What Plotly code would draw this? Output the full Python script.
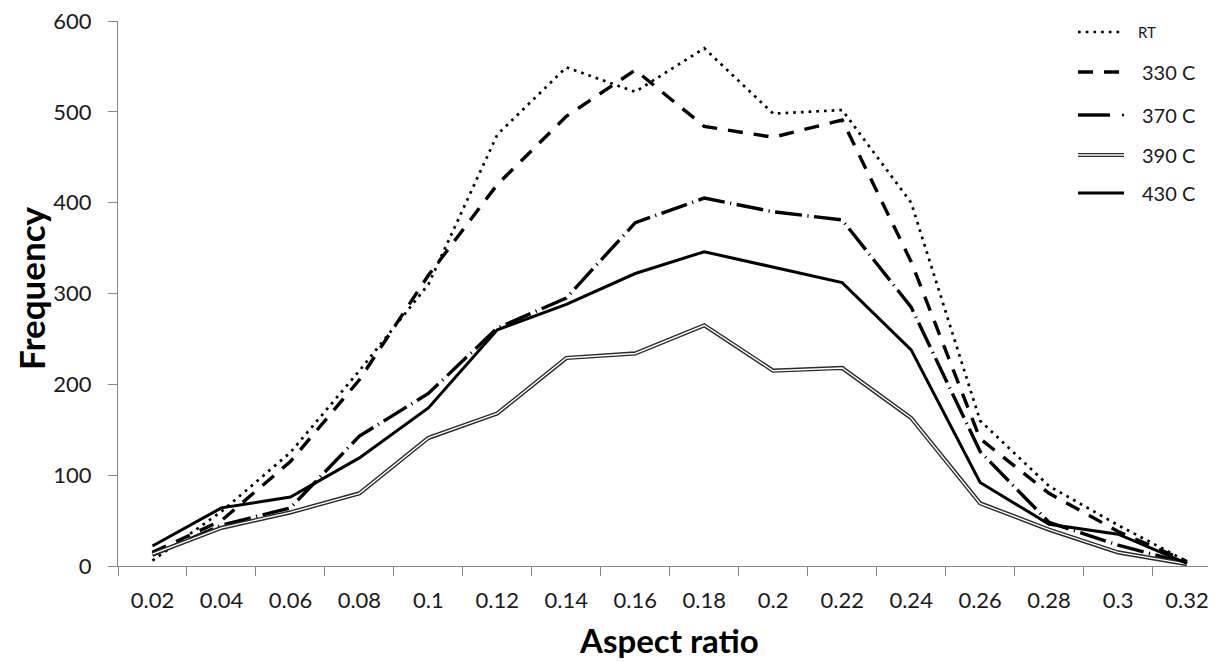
import plotly.graph_objects as go

# ---- data ----
aspect_ratio = ["0.02", "0.04", "0.06", "0.08", "0.1", "0.12", "0.14", "0.16",
                "0.18", "0.2", "0.22", "0.24", "0.26", "0.28", "0.3", "0.32"]
rt    = [6, 60, 125, 215, 310, 475, 549, 522, 570, 498, 502, 400, 160, 88, 45, 5]
c330  = [15, 50, 115, 205, 320, 420, 495, 546, 484, 472, 491, 335, 140, 80, 38, 5]
c370  = [12, 45, 64, 143, 190, 262, 295, 378, 405, 390, 381, 285, 126, 48, 23, 3]
c390  = [13, 42, 59, 80, 141, 168, 229, 234, 265, 215, 218, 163, 69, 40, 15, 2]
c430  = [22, 64, 76, 119, 174, 260, 288, 322, 346, 329, 312, 238, 92, 46, 35, 3]
series_names = ["RT", "330 C", "370 C", "390 C", "430 C"]

# page has an 8px body margin: figure sits at (8, 8) in the window
OFF = 8
W, H = 1216 - OFF, 663 - OFF
# plot area in window pixels: x 118..1216, y 21..566
ML, MT = 118 - OFF, 21 - OFF
PW, PH = 1216 - 118, 566 - 21
MR = W - ML - PW
MB = H - MT - PH

def px2x(px):  # window pixel -> paper x
    return (px - 118) / PW

def py2y(py):  # window pixel -> paper y
    return (566 - py) / PH

FONT = "Lato"
BLACK = "#000000"

styles = {
    "RT":    dict(color=BLACK, width=2.7, dash="2.7px,5px"),
    "330 C": dict(color=BLACK, width=3.4, dash="15px,11px"),
    "370 C": dict(color=BLACK, width=3.4, dash="27px,5.5px,1.2px,5.5px"),
    "430 C": dict(color=BLACK, width=3.0),
}

fig = go.Figure()
fig.add_trace(go.Scatter(x=aspect_ratio, y=rt, mode="lines", name="RT",
                         line=styles["RT"], showlegend=False))
fig.add_trace(go.Scatter(x=aspect_ratio, y=c330, mode="lines", name="330 C",
                         line=styles["330 C"], showlegend=False))
fig.add_trace(go.Scatter(x=aspect_ratio, y=c370, mode="lines", name="370 C",
                         line=styles["370 C"], showlegend=False))
fig.add_trace(go.Scatter(x=aspect_ratio, y=c390, mode="lines", name="390 C",
                         line=dict(color="#2a2a2a", width=4.2), showlegend=False))
fig.add_trace(go.Scatter(x=aspect_ratio, y=c390, mode="lines", name="390 C inner",
                         line=dict(color="#ffffff", width=1.4), showlegend=False,
                         hoverinfo="skip"))
fig.add_trace(go.Scatter(x=aspect_ratio, y=c430, mode="lines", name="430 C",
                         line=styles["430 C"], showlegend=False))

# ---- manual legend (top right) ----
leg_rows = [("RT", 32, 1136, 15), ("330 C", 72, 1140, 20), ("370 C", 115, 1140, 20),
            ("390 C", 155, 1140, 20), ("430 C", 193, 1140, 20)]
shapes = []
annotations = []
for name, py, tx, fs in leg_rows:
    x0, x1 = px2x(1078), px2x(1124)
    y = py2y(py)
    if name == "390 C":
        shapes.append(dict(type="line", xref="paper", yref="paper", x0=x0, x1=x1,
                           y0=y, y1=y, line=dict(color="#2a2a2a", width=4.2)))
        shapes.append(dict(type="line", xref="paper", yref="paper", x0=x0, x1=x1,
                           y0=y, y1=y, line=dict(color="#ffffff", width=1.4)))
    elif name == "370 C":
        shapes.append(dict(type="line", xref="paper", yref="paper", x0=x0,
                           x1=px2x(1110), y0=y, y1=y,
                           line=dict(color=BLACK, width=3.4)))
        shapes.append(dict(type="line", xref="paper", yref="paper", x0=px2x(1122),
                           x1=px2x(1124), y0=y, y1=y,
                           line=dict(color=BLACK, width=2.5)))
    else:
        shapes.append(dict(type="line", xref="paper", yref="paper", x0=x0, x1=x1,
                           y0=y, y1=y, line=styles[name]))
    annotations.append(dict(text=name, xref="paper", yref="paper", x=px2x(tx), y=y,
                            xanchor="left", yanchor="middle", showarrow=False,
                            font=dict(family=FONT, size=fs, color="#1a1a1a")))

# axis titles
annotations.append(dict(text="<b>Aspect ratio</b>", xref="paper", yref="paper",
                        x=px2x(669), y=py2y(640), xanchor="center", yanchor="middle",
                        showarrow=False, font=dict(family=FONT, size=33, color=BLACK)))
annotations.append(dict(text="<b>Frequency</b>", xref="paper", yref="paper",
                        x=px2x(31), y=py2y(288), xanchor="center", yanchor="middle",
                        textangle=-90, showarrow=False,
                        font=dict(family=FONT, size=35, color=BLACK)))

AXIS_COLOR = "#878787"
fig.update_layout(
    width=W, height=H,
    margin=dict(l=ML, r=MR, t=MT, b=MB, pad=0),
    paper_bgcolor="white", plot_bgcolor="white",
    showlegend=False,
    shapes=shapes, annotations=annotations,
    xaxis=dict(type="category", categoryorder="array", categoryarray=aspect_ratio,
               range=[-0.5, 15.42], showgrid=False, zeroline=False,
               showline=True, linecolor=AXIS_COLOR, linewidth=1.3,
               ticks="outside", tickson="boundaries", ticklen=9,
               tickcolor=AXIS_COLOR, tickwidth=1.3,
               ticklabelstandoff=14, ticklabeloverflow="allow",
               tickfont=dict(family=FONT, size=22, color="#1a1a1a")),
    yaxis=dict(range=[0, 600], dtick=100, tick0=0, showgrid=False, zeroline=False,
               showline=True, linecolor=AXIS_COLOR, linewidth=1.3,
               ticks="outside", ticklen=9, tickcolor=AXIS_COLOR, tickwidth=1.3,
               ticklabelstandoff=12, ticklabeloverflow="allow",
               tickfont=dict(family=FONT, size=22, color="#1a1a1a")),
)

fig.write_html("out.html")
